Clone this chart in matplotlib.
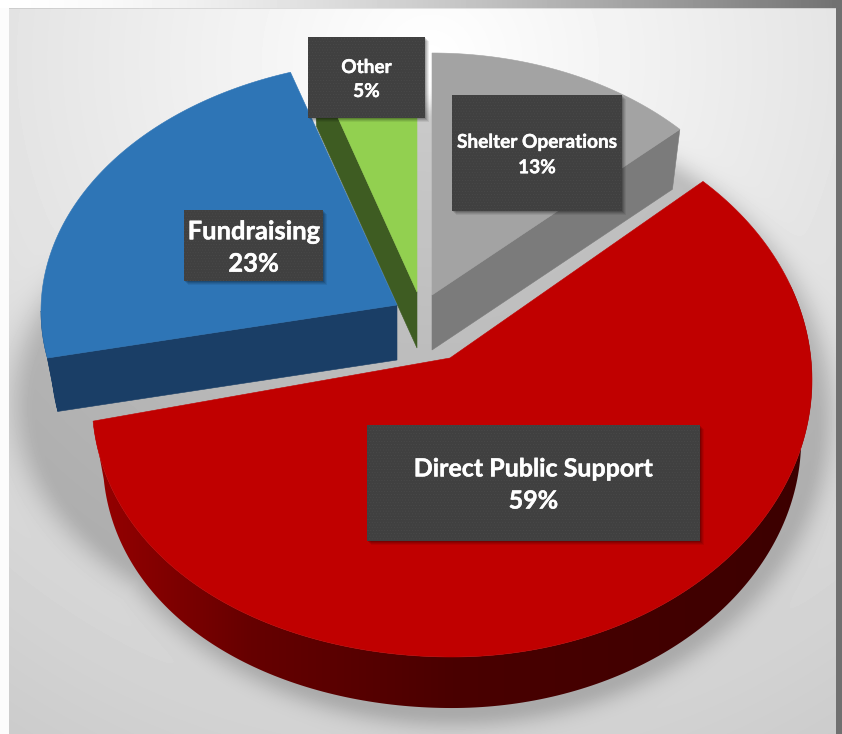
import numpy as np
import matplotlib
matplotlib.use("Agg")
import matplotlib.pyplot as plt
import matplotlib.patheffects as pe
from matplotlib.colors import LinearSegmentedColormap
from matplotlib.patches import Polygon, Rectangle

W, H = 842, 734

categories = ["Shelter Operations", "Direct Public Support", "Fundraising", "Other"]
shares = [13, 59, 23, 5]
labels = [f"{c}\n{s}%" for c, s in zip(categories, shares)]

# slice geometry in pixels: rim ellipse, apex of the top face, extrusion depth
layout = {
    "Shelter Operations": dict(cx=432, cy=295, a=340, b=242, apex=(432, 295), depth=55, k=0.97),
    "Direct Public Support": dict(cx=452, cy=380, a=360, b=277, apex=(450, 358), depth=60, k=0.97,
                                  nudge=(-2.6, 6.4), droop=20),
    "Fundraising": dict(cx=402, cy=311, a=361, b=251, apex=(397, 305), depth=55, k=0.97),
    "Other": dict(cx=417, cy=292, a=335, b=240, apex=(417, 292), depth=56, k=0.97),
}
top_colors = {"Shelter Operations": "#a3a3a3", "Direct Public Support": "#c00000",
              "Fundraising": "#2e75b6", "Other": "#92d050"}
side_colors = {"Shelter Operations": "#7b7b7b", "Fundraising": "#1a3e66", "Other": "#3e5c22"}

# label boxes: left, top, right, bottom, font size, line spacing
boxes = {
    "Shelter Operations": (452, 95, 622, 211, 13.7, 1.6),
    "Direct Public Support": (367, 425, 700, 541, 18.0, 1.48),
    "Fundraising": (184, 210, 323, 281, 18.4, 1.42),
    "Other": (308, 37, 425, 118, 13.7, 1.5),
}


def rim(g, t):
    t = np.radians(t)
    s, c = np.sin(t), np.cos(t)
    x = g["cx"] + g["a"] * s
    y = g["cy"] - g["b"] * c
    if "droop" in g:
        y = y + g["droop"] * np.where(s < 0, s ** 2, 0)
    return np.column_stack([x, y])


def lowered(g, pts):
    ax_, ay_ = g["apex"]
    return np.column_stack([ax_ + (pts[:, 0] - ax_) * g["k"],
                            ay_ + (pts[:, 1] - ay_) * g["k"] + g["depth"]])


def background():
    y, x = np.mgrid[0:H, 0:W]
    # radial falloff from the bright spot at the top
    img = 255 - 0.065 * np.hypot(x - 430, y - 60)
    # soft shadow under the pie
    shade = np.zeros_like(img)
    for cx, cy, a, b in [(452, 415, 362, 296), (403, 400, 368, 240)]:
        r = np.sqrt(((x - cx) / a) ** 2 + ((y - cy) / b) ** 2)
        d = np.clip(r - 1, 0, None) * min(a, b)
        shade = np.maximum(shade, 0.2 * np.exp(-(d / 18) ** 2))
    img = img * (1 - shade)
    # frame strips
    img[:, :9] = 252
    img[:, 836:] = 112
    img[:8, :] = 255 - 143 * (np.arange(W) / W) ** 1.5
    img[8, 9:836] *= 0.9
    return img


fig = plt.figure(figsize=(W / 100, H / 100), dpi=100)
ax = fig.add_axes([0, 0, 1, 1])
ax.imshow(background(), cmap="gray", vmin=0, vmax=255, extent=(0, W, H, 0), aspect="auto", zorder=0)

bounds = np.cumsum([0] + shares) * 3.6
spans = dict(zip(categories, zip(bounds[:-1], bounds[1:])))

wall_cmap = LinearSegmentedColormap.from_list(
    "wall", [(0, "#980000"), (0.22, "#660000"), (0.5, "#4a0000"), (1, "#3c0000")])

# draw back to front
for name in ["Shelter Operations", "Other", "Fundraising", "Direct Public Support"]:
    g = layout[name]
    t0, t1 = spans[name]
    n0, n1 = g.get("nudge", (0, 0))
    t0, t1 = t0 + n0, t1 + n1
    arc = rim(g, np.linspace(t0, t1, 200))

    if name == "Direct Public Support":
        # curved outer wall with a left to right shade
        wall = rim(g, np.linspace(70, t1, 200))
        poly = Polygon(np.vstack([wall, lowered(g, wall)[::-1]]), closed=True, fc="none", ec="none", zorder=2)
        ax.add_patch(poly)
        im = ax.imshow(np.linspace(0, 1, 256)[None, :], cmap=wall_cmap, extent=(90, 815, H, 0),
                       aspect="auto", zorder=2)
        im.set_clip_path(poly)
    else:
        # the radial cut that faces the viewer
        cut = t1 if name == "Shelter Operations" else t0
        end = rim(g, np.array([cut]))
        apex = np.array([g["apex"]], dtype=float)
        face = np.vstack([apex, end, lowered(g, end), lowered(g, apex)])
        ax.add_patch(Polygon(face, closed=True, fc=side_colors[name], ec=side_colors[name], lw=0.4, zorder=2))
        if name == "Fundraising":
            wall = rim(g, np.linspace(t0, 270, 20))
            ax.add_patch(Polygon(np.vstack([wall, lowered(g, wall)[::-1]]), closed=True,
                                 fc=side_colors[name], ec=side_colors[name], lw=0.4, zorder=2))

    top = np.vstack([[g["apex"]], arc])
    ax.add_patch(Polygon(top, closed=True, fc=top_colors[name], ec=top_colors[name], lw=0.4, zorder=3))

# label boxes
plt.rcParams["hatch.linewidth"] = 0.3
for name, label in zip(categories, labels):
    x0, y0, x1, y1, size, spacing = boxes[name]
    for off, alpha in [(5, 0.07), (4, 0.09), (3, 0.11), (2, 0.14)]:
        ax.add_patch(Rectangle((x0 + off - 1, y0 + off - 1), x1 - x0, y1 - y0, fc="black", ec="none",
                               alpha=alpha, zorder=4))
    ax.add_patch(Rectangle((x0, y0), x1 - x0, y1 - y0, fc="#404040", ec="#4b4b4b", hatch="......",
                           lw=0, zorder=5))
    ax.text((x0 + x1) / 2, (y0 + y1) / 2 + 2, label, color="white", fontsize=size, fontweight="bold",
            family=["Lato", "DejaVu Sans"], ha="center", va="center", linespacing=spacing, zorder=6,
            path_effects=[pe.withStroke(linewidth=0.3, foreground="white")])

ax.set_xlim(0, W)
ax.set_ylim(H, 0)
ax.axis("off")
fig.savefig("out.png", dpi=100)
